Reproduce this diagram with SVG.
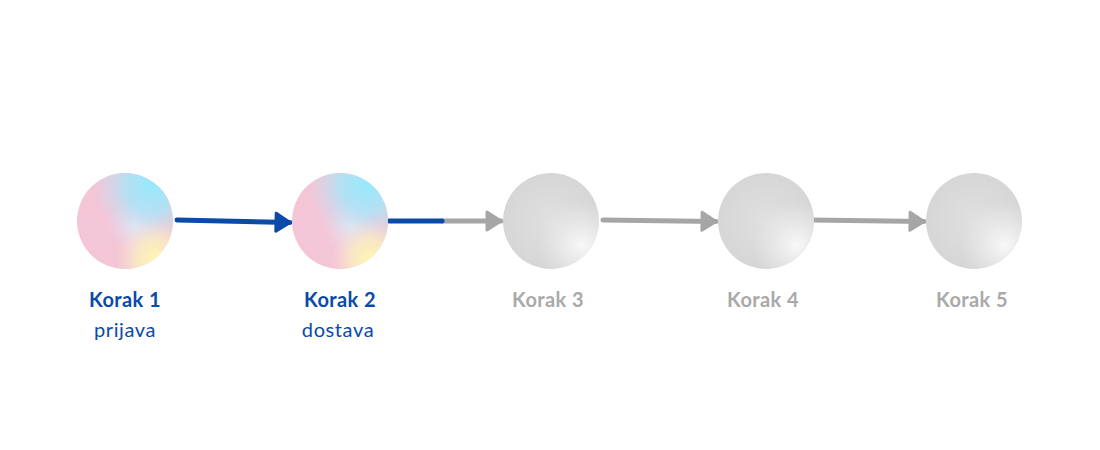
<svg xmlns="http://www.w3.org/2000/svg" width="1100" height="450" viewBox="0 0 1100 450">
<style>
.lbl{font-family:Lato,"Liberation Sans",sans-serif;font-size:20px;font-weight:700;text-anchor:middle;letter-spacing:0.4px}
.sub{font-family:Lato,"Liberation Sans",sans-serif;font-size:20px;font-weight:400;text-anchor:middle;letter-spacing:0.6px}
.blue{fill:#0b4aa8}
.gray{fill:#a9a9a9}
.cb{stroke:#0b4aa8;stroke-width:5;fill:none;stroke-linecap:round}
.cg{stroke:#a6a6a6;stroke-width:5;fill:none;stroke-linecap:round}
</style>
<defs>
<radialGradient id="pinkBase" cx="0.3" cy="0.6" r="0.8">
<stop offset="0" stop-color="#f3c6d8"/>
<stop offset="1" stop-color="#f4c4d2"/>
</radialGradient>
<radialGradient id="cyan" cx="0.78" cy="0.12" r="0.62">
<stop offset="0" stop-color="#96eafd" stop-opacity="1"/>
<stop offset="0.45" stop-color="#a6e6fa" stop-opacity="0.8"/>
<stop offset="1" stop-color="#c8e0f5" stop-opacity="0"/>
</radialGradient>
<radialGradient id="yellow" cx="0.82" cy="0.9" r="0.42">
<stop offset="0" stop-color="#fff8b0" stop-opacity="1"/>
<stop offset="0.5" stop-color="#fbf0c0" stop-opacity="0.75"/>
<stop offset="1" stop-color="#f6e2d8" stop-opacity="0"/>
</radialGradient>
<radialGradient id="mid" cx="0.62" cy="0.55" r="0.3">
<stop offset="0" stop-color="#eceaf6" stop-opacity="0.9"/>
<stop offset="1" stop-color="#e6def0" stop-opacity="0"/>
</radialGradient>
<radialGradient id="grayBase" cx="0.5" cy="0.5" r="0.6">
<stop offset="0" stop-color="#e0e0e0"/>
<stop offset="1" stop-color="#d4d4d4"/>
</radialGradient>
<radialGradient id="grayHi" cx="0.82" cy="0.75" r="0.45">
<stop offset="0" stop-color="#f8f8f8" stop-opacity="1"/>
<stop offset="1" stop-color="#f0f0f0" stop-opacity="0"/>
</radialGradient>
<marker id="ab" markerUnits="userSpaceOnUse" markerWidth="22" markerHeight="24" refX="17" refY="12" orient="auto" viewBox="0 0 22 24">
<path d="M3,3 L17,12 L3,21 Z" fill="#0b4aa8" stroke="#0b4aa8" stroke-width="3" stroke-linejoin="round"/>
</marker>
<marker id="ag" markerUnits="userSpaceOnUse" markerWidth="22" markerHeight="24" refX="17" refY="12" orient="auto" viewBox="0 0 22 24">
<path d="M3,3 L17,12 L3,21 Z" fill="#a6a6a6" stroke="#a6a6a6" stroke-width="3" stroke-linejoin="round"/>
</marker>
<g id="colorCircle">
<circle r="48" fill="url(#pinkBase)"/>
<circle r="48" fill="url(#mid)"/>
<circle r="48" fill="url(#cyan)"/>
<circle r="48" fill="url(#yellow)"/>
</g>
<g id="grayCircle">
<circle r="48" fill="url(#grayBase)"/>
<circle r="48" fill="url(#grayHi)"/>
</g>
</defs>
<rect width="1100" height="450" fill="#ffffff"/>
<g id="connectors">
<path class="cb" d="M177,220 L290,222.5" marker-end="url(#ab)"/>
<path class="cg" d="M442,221 L501,221" marker-end="url(#ag)"/>
<path class="cb" d="M389,221 L442,221"/>
<path class="cg" d="M603,220 L716,221.5" marker-end="url(#ag)"/>
<path class="cg" d="M811,220 L924,221.5" marker-end="url(#ag)"/>
</g>
<g id="step1">
<use href="#colorCircle" x="125" y="221"/>
<text class="lbl blue" x="125" y="307">Korak 1</text>
<text class="sub blue" x="125" y="337">prijava</text>
</g>
<g id="step2">
<use href="#colorCircle" x="340" y="221"/>
<text class="lbl blue" x="340" y="307">Korak 2</text>
<text class="sub blue" x="338" y="337">dostava</text>
</g>
<g id="step3">
<use href="#grayCircle" x="551" y="221"/>
<text class="lbl gray" x="548" y="307">Korak 3</text>
</g>
<g id="step4">
<use href="#grayCircle" x="766" y="221"/>
<text class="lbl gray" x="763" y="307">Korak 4</text>
</g>
<g id="step5">
<use href="#grayCircle" x="974" y="221"/>
<text class="lbl gray" x="972" y="307">Korak 5</text>
</g>
</svg>
